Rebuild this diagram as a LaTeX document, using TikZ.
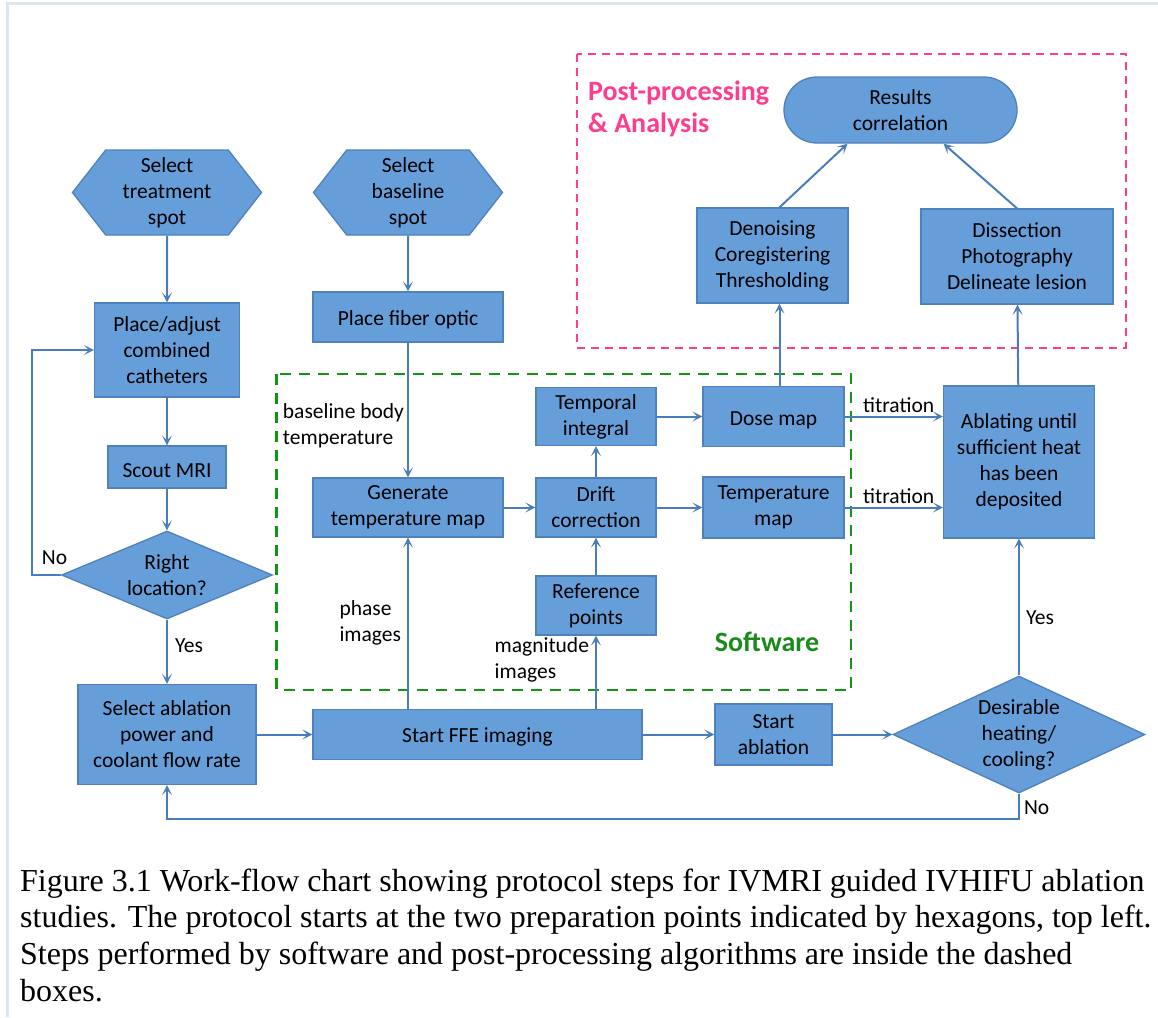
\documentclass[tikz,border=0pt]{standalone}
\usepackage{fontspec}
\setmainfont{Carlito}
\newfontfamily\capfont{Liberation Serif}
\usetikzlibrary{arrows.meta, positioning, calc, shapes.geometric, shapes.misc, shapes.symbols}
\definecolor{boxblue}{HTML}{659ED9}
\definecolor{edgeblue}{HTML}{4F81BD}
\definecolor{flowblue}{HTML}{4A7EBB}
\definecolor{swgreen}{HTML}{139413}
\definecolor{swtext}{HTML}{1A8A1A}
\definecolor{pppink}{HTML}{FF3D8F}
\definecolor{framegray}{HTML}{DCE6F2}

\begin{document}
\begin{tikzpicture}[x=1pt, y=-1pt,
  font=\fontsize{21.5}{26}\selectfont,
  box/.style={draw=edgeblue, line width=1.3pt, fill=boxblue, align=center, inner sep=0pt,
    execute at begin node={\rule{0pt}{20.5pt}}},
  hex/.style={box, signal, signal to=west and east, signal pointer angle=104, minimum width=189pt, minimum height=85pt},
  dec/.style={box, diamond},
  flow/.style={draw=flowblue, line width=2pt, -{Stealth[length=10pt, width=10pt, inset=5pt]}},
  lbl/.style={inner sep=1pt, align=left},
  zone/.style={line width=2.5pt, dash pattern=on 11pt off 8pt},
  title/.style={font=\fontsize{28}{32}\selectfont\bfseries, inner sep=0pt, align=left}]
  \useasboundingbox (0,0) rectangle (1158,1017);
  \draw[framegray, line width=3pt] (7.5,1017) -- (7.5,3.5) -- (1158,3.5);
  % dashed zones
  \draw[zone, swgreen] (276.5,374) rectangle (851,690);
  \draw[zone, pppink, line width=2pt, dash pattern=on 8pt off 6pt] (576.5,54) rectangle (1125.5,347.5);
  \node[title, text=pppink, anchor=west] (ppl) at (588,108.5) {Post-processing\\\& Analysis};
  \node[title, text=swtext] (swl) at (767,642) {Software};
  % preparation
  \node[hex] (ts) at (167,192.5) {Select\\treatment\\spot};
  \node[hex] (bs) at (408,192.5) {Select\\baseline\\spot};
  \node[box, minimum width=145pt, minimum height=94pt] (pa) at (167,350) {Place/adjust\\combined\\catheters};
  \node[box, minimum width=190pt, minimum height=50pt] (pf) at (408,317) {Place fiber optic};
  \node[box, minimum width=118pt, minimum height=42pt] (sm) at (167,467) {Scout MRI};
  \node[dec, aspect=2.4, minimum width=211pt, minimum height=88pt] (rl) at (167,575) {Right\\location?};
  \node[box, minimum width=178pt, minimum height=100pt] (sa) at (167,734.5) {Select ablation\\power and\\coolant flow rate};
  \node[box, minimum width=329pt, minimum height=50pt] (ffe) at (477.5,734.5) {Start FFE imaging};
  \node[box, minimum width=117pt, minimum height=61pt] (st) at (773.5,734.5) {Start\\ablation};
  \node[dec, aspect=2.15, minimum width=252pt, minimum height=117pt] (dh) at (1019,734.5) {Desirable\\heating/\\cooling?};
  % software
  \node[box, minimum width=190pt, minimum height=59pt] (gt) at (408,507.5) {Generate\\temperature map};
  \node[box, minimum width=120pt, minimum height=59pt] (dc) at (596,507.5) {Drift\\correction};
  \node[box, minimum width=120pt, minimum height=59pt] (rp) at (596,605.5) {Reference\\points};
  \node[box, minimum width=120pt, minimum height=58pt] (ti) at (596,416.5) {Temporal\\integral};
  \node[box, minimum width=141pt, minimum height=60pt] (dm) at (773.5,416.5) {Dose map};
  \node[box, minimum width=141pt, minimum height=61pt] (tm) at (773.5,507.5) {Temperature\\map};
  \node[box, minimum width=151pt, minimum height=152pt] (ab) at (1019,462) {Ablating until\\sufficient heat\\has been\\deposited};
  % post-processing
  \node[box, minimum width=151pt, minimum height=95pt] (dn) at (772.5,255.5) {Denoising\\Coregistering\\Thresholding};
  \node[box, minimum width=192pt, minimum height=95pt] (ds) at (1017,256.5) {Dissection\\Photography\\Delineate lesion};
  \node[box, rounded rectangle, minimum width=233pt, minimum height=66pt] (rc) at (900.5,110) {Results\\correlation};
  % connectors
  \draw[flow] (ts) -- (pa);
  \draw[flow] (bs) -- (pf);
  \draw[flow] (pa) -- (sm);
  \draw[flow] (sm) -- (rl);
  \draw[flow] (rl) -- node[lbl, right=6pt, pos=0.4]{Yes} (sa);
  \draw[flow] (rl.west) -- node[lbl, above=8pt, pos=0.22]{No} ++(-29,0) |- (pa.west);
  \draw[flow] (sa) -- (ffe);
  \draw[flow] (ffe) -- (st);
  \draw[flow] (st) -- (dh);
  \draw[flow] (dh) -- node[lbl, right=5pt, pos=0.42]{Yes} (ab);
  \draw[flow] (dh.south) -- node[lbl, right=3pt, pos=0.55]{No} ++(0,25) -| (sa.south);
  \draw[flow] (pf) -- node[lbl, left=2pt, pos=0.62]{baseline body\\temperature} (gt);
  \draw[flow] (ffe.north -| gt) -- node[lbl, left=5pt, pos=0.5]{phase\\images} (gt);
  \draw[flow] (ffe.north -| rp) -- node[lbl, left=5pt, pos=0.67]{magnitude\\images} (rp);
  \draw[flow] (gt) -- (dc);
  \draw[flow] (rp) -- (dc);
  \draw[flow] (dc) -- (ti);
  \draw[flow] (dc) -- (tm);
  \draw[flow] (ti) -- (dm);
  \draw[flow] (dm.east) -- node[lbl, above=2pt, pos=0.55]{titration} (dm.east -| ab.west);
  \draw[flow] (tm.east) -- node[lbl, above=2pt, pos=0.55]{titration} (tm.east -| ab.west);
  \draw[flow] ([xshift=6pt]dm.north) -- ([xshift=6pt]dm.north |- dn.south);
  \draw[flow] ([xshift=7pt]dn.north) -- ([xshift=-53pt]rc.south);
  \draw[flow] (ds.north) -- ([xshift=43pt]rc.south);
  \draw[flow] (ab) -- (ds);
  % caption
  \node[font=\capfont\fontsize{32}{36.7}\selectfont, anchor=north west, align=left, inner sep=0pt] (cap) at (20,868.5)
    {Figure 3.1 Work-flow chart showing protocol steps for IVMRI guided IVHIFU ablation\\
     studies. The protocol starts at the two preparation points indicated by hexagons, top left.\\
     Steps performed by software and post-processing algorithms are inside the dashed\\
     boxes.};
\end{tikzpicture}
\end{document}
